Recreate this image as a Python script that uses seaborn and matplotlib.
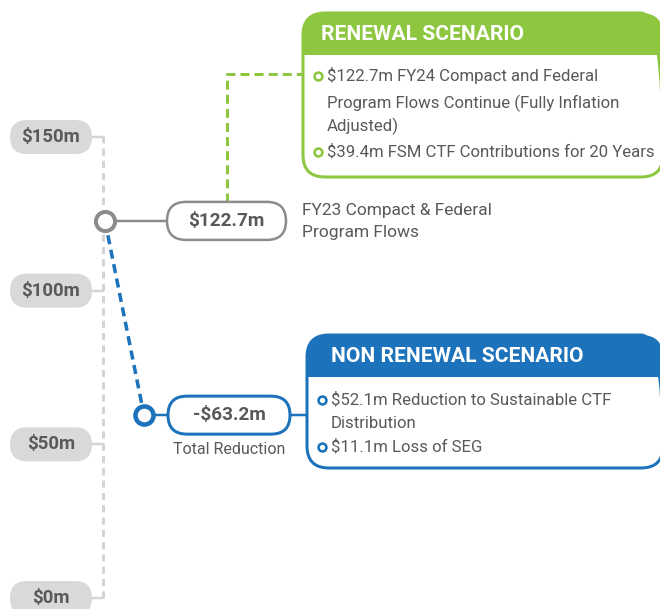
import matplotlib
matplotlib.use("Agg")
import matplotlib.pyplot as plt
from matplotlib.patches import FancyBboxPatch, Rectangle
import pandas as pd
import seaborn as sns

# values
tick_values = [0, 50, 100, 150]
tick_labels = ["$0m", "$50m", "$100m", "$150m"]
current_flows = 122.7
current_label = "$122.7m"
current_caption = ["FY23 Compact & Federal", "Program Flows"]
total_reduction = -63.2
reduction_label = "-$63.2m"
reduction_caption = "Total Reduction"
renewal_title = "RENEWAL SCENARIO"
renewal_items = [["$122.7m FY24 Compact and Federal",
                  "Program Flows Continue (Fully Inflation",
                  "Adjusted)"],
                 ["$39.4m FSM CTF Contributions for 20 Years"]]
nonrenewal_title = "NON RENEWAL SCENARIO"
nonrenewal_items = [["$52.1m Reduction to Sustainable CTF", "Distribution"],
                    ["$11.1m Loss of SEG"]]

GREEN = "#8dc63f"
BLUE = "#1c72bb"
GRAY_LINE = "#d4d4d6"
GRAY_DARK = "#8c8c8e"
PILL = "#d9d9db"
TEXT = "#58595b"

sns.set_theme(style="white")
plt.rcParams["font.family"] = ["Roboto", "DejaVu Sans"]

S = (598 - 137) / 150   # pixels per $m
PT = 0.72               # px -> pt at dpi 100


def Y(p):
    # pixel row -> $m, used only for layout of the annotation boxes
    return (598 - p) / S


def pill(ax, xc, yc, w, h, fc, ec, lw):
    ax.add_patch(FancyBboxPatch((xc - w / 2, yc - h / 2 / S), w, h / S,
                                boxstyle=f"round,pad=0,rounding_size={h / 2}",
                                mutation_aspect=1 / S, fc=fc, ec=ec, lw=lw, zorder=4))


def scenario_box(ax, x0, x1, top, hdr, bottom, color, title, title_x, items, bx, tx, rows):
    R = 22
    style = f"round,pad=0,rounding_size={R}"
    ax.add_patch(FancyBboxPatch((x0, Y(bottom)), x1 - x0, Y(top) - Y(bottom), boxstyle=style,
                                mutation_aspect=1 / S, fc=color, ec="none", zorder=3))
    ax.add_patch(FancyBboxPatch((x0, Y(bottom)), x1 - x0, Y(hdr) - Y(bottom) - 0.5, boxstyle=style,
                                mutation_aspect=1 / S, fc="white", ec="none", zorder=3))
    ax.add_patch(Rectangle((x0, Y(bottom) + R / S), x1 - x0, Y(hdr) - Y(bottom) - R / S,
                           fc="white", ec="none", zorder=3))
    ax.add_patch(FancyBboxPatch((x0, Y(bottom)), x1 - x0, Y(top) - Y(bottom), boxstyle=style,
                                mutation_aspect=1 / S, fc="none", ec=color, lw=3 * PT, zorder=4))
    ax.text(title_x, Y((top + hdr) / 2), title, color="white", fontsize=21 * PT,
            fontweight="bold", ha="left", va="center", zorder=5)
    r = 0
    for item in items:
        ax.scatter([bx], [Y(rows[r])], s=32, facecolor="white", edgecolor=color,
                   linewidth=2.6 * PT, zorder=5)
        for line in item:
            ax.text(tx, Y(rows[r]), line, color=TEXT, fontsize=16.8 * PT,
                    ha="left", va="center", zorder=5)
            r += 1


fig = plt.figure(figsize=(6.6, 6.09), dpi=100)
ax = fig.add_axes([0, 0, 1, 1])

# value axis
axis_df = pd.DataFrame({"x": [103, 103], "y": [0, Y(132)]})
sns.lineplot(data=axis_df, x="x", y="y", estimator=None, sort=False, color=GRAY_LINE,
             lw=3 * PT, linestyle=(0, (2.4, 1.7)), ax=ax, zorder=1)
for v, lab in zip(tick_values, tick_labels):
    ax.plot([92, 103], [v, v], color=GRAY_LINE, lw=2.5 * PT, zorder=1)
    pill(ax, 51, v, 82, 34, PILL, "none", 0)
    ax.text(51, v, lab, ha="center", va="center", fontsize=18.7 * PT,
            fontweight="bold", color=TEXT, zorder=5)

after_value = current_flows + total_reduction

# reduction path
red_df = pd.DataFrame({"x": [105, 144], "y": [current_flows, after_value]})
sns.lineplot(data=red_df, x="x", y="y", estimator=None, sort=False, color=BLUE,
             lw=3.5 * PT, linestyle=(0, (2.6, 1.6)), ax=ax, zorder=2)

# current flows marker, connector, pill
ax.plot([105, 167], [current_flows, current_flows], color=GRAY_DARK, lw=2.5 * PT, zorder=2)
sns.scatterplot(x=[105], y=[current_flows], color="white", edgecolor=GRAY_DARK,
                s=190, linewidth=4 * PT, ax=ax, zorder=6)
pill(ax, 226.5, current_flows, 119, 38, "white", GRAY_DARK, 2.5 * PT)
ax.text(226.5, current_flows, current_label, ha="center", va="center",
        fontsize=19 * PT, fontweight="bold", color=TEXT, zorder=5)
for i, line in enumerate(current_caption):
    ax.text(302, current_flows + (10 - 22 * i) / S, line, ha="left", va="center",
            fontsize=17.4 * PT, color=TEXT, zorder=5)

# renewal connector
green_df = pd.DataFrame({"x": [226.5, 226.5, 303],
                         "y": [current_flows + 19 / S, Y(74), Y(74)]})
sns.lineplot(data=green_df, x="x", y="y", estimator=None, sort=False, color=GREEN,
             lw=3 * PT, linestyle=(0, (3.0, 1.7)), ax=ax, zorder=2)

# after-reduction marker, pill
ax.plot([144, 307], [after_value, after_value], color=BLUE, lw=2.5 * PT, zorder=2)
sns.scatterplot(x=[144], y=[after_value], color="white", edgecolor=BLUE,
                s=170, linewidth=4.5 * PT, ax=ax, zorder=6)
pill(ax, 229, after_value, 122, 38, "white", BLUE, 3 * PT)
ax.text(229, after_value, reduction_label, ha="center", va="center",
        fontsize=19 * PT, fontweight="bold", color=TEXT, zorder=5)
ax.text(229, after_value - 34 / S, reduction_caption, ha="center", va="center",
        fontsize=16 * PT, color=TEXT, zorder=5)

scenario_box(ax, 303, 663, 13, 55, 177, GREEN, renewal_title, 321, renewal_items,
             318, 327, [76, 103, 126, 152])
scenario_box(ax, 307, 663, 335, 377, 468, BLUE, nonrenewal_title, 331, nonrenewal_items,
             322, 331, [400, 423, 447])

ax.set_xlim(0, 660)
ax.set_ylim(Y(609), Y(0))
ax.axis("off")
fig.savefig("out.png", dpi=100)
